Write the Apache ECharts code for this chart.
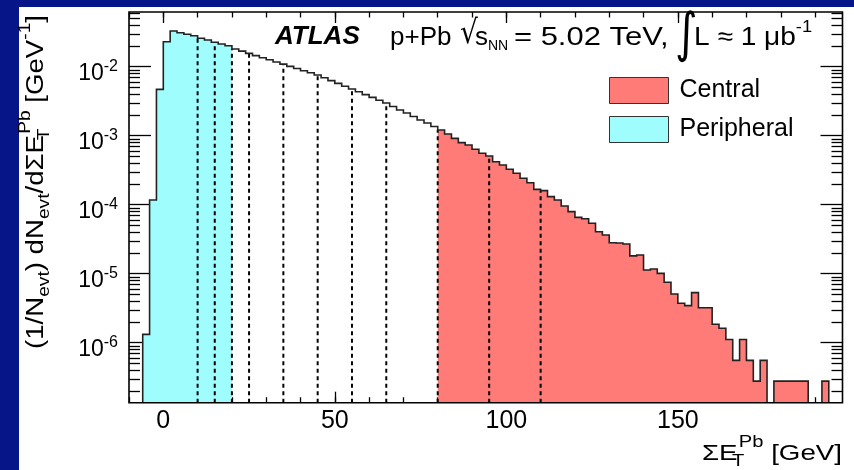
<!DOCTYPE html>
<html><head><meta charset="utf-8">
<script src="https://cdn.jsdelivr.net/npm/echarts@6/dist/echarts.min.js"></script>
<style>html,body{margin:0;padding:0;background:#fff}#c{width:854px;height:470px}</style>
</head><body><div id="c"></div>
<script>
// ---- data ----
const binEdges = [-6,-4,-2,0,2,4,6,8,10,12,14,16,18,20,22,24,26,28,30,32,34,36,38,40,42,44,46,48,50,52,54,56,58,60,62,64,66,68,70,72,74,76,78,80,82,84,86,88,90,92,94,96,98,100,102,104,106,108,110,112,114,116,118,120,122,124,126,128,130,132,134,136,138,140,142,144,146,148,150,152,154,156,158,160,162,164,166,168,170,172,174,176,178,180,182,184,186,188,190,192,194,196,198];
const density = [1.32e-6,1.17e-4,4.70e-3,0.0230,0.0329,0.0311,0.0295,0.0281,0.0258,0.0244,0.0226,0.0213,0.0201,0.0181,0.0168,0.0156,0.0145,0.0135,0.0126,0.0117,0.0109,0.0101,0.00942,0.00875,0.00816,0.00758,0.00691,0.00629,0.00573,0.00522,0.00475,0.00433,0.00394,0.00359,0.00327,0.00298,0.00265,0.00236,0.00213,0.00190,0.00169,0.00153,0.00136,0.00121,0.00106,0.000916,0.000793,0.000733,0.000635,0.000556,0.000508,0.000420,0.000376,0.000326,0.000285,0.000242,0.000208,0.000167,0.000160,0.000131,0.000117,9.57e-5,7.93e-5,6.56e-5,6.27e-5,5.37e-5,4.06e-5,3.64e-5,2.81e-5,2.79e-5,2.69e-5,1.81e-5,1.87e-5,1.13e-5,1.17e-5,1.01e-5,7.50e-6,5.08e-6,3.72e-6,3.44e-6,5.31e-6,3.21e-6,3.21e-6,1.85e-6,1.62e-6,1.11e-6,5.54e-7,1.11e-6,5.54e-7,2.77e-7,5.54e-7,0,2.77e-7,2.77e-7,2.77e-7,2.77e-7,2.77e-7,0,0,2.77e-7,0,0];
const peripheralRange = [-6, 20];
const centralRange = [80, 198];
const boundaryLines = [10, 15, 20, 25, 35, 45, 55, 65, 80, 95, 110];
const xMajorTicks = [0, 50, 100, 150];
const xMinorTicks = [-10,0,10,20,30,40,50,60,70,80,90,100,110,120,130,140,150,160,170,180,190];
const yDecades = [-6, -5, -4, -3, -2];
const xRange = [-10, 198];
const yRange = [-6.87, -1.207]; // log10 of 1.35e-7 .. 0.062

// ---- styling ----
const RED = '#ff7b77', CYAN = '#a0fdfd', BLUE = '#061689';
const FONT = '"Liberation Sans", Arial, Helvetica, sans-serif';
const Y_MIN = yRange[0];
const yMinor = [];
for (let n = -7; n <= -2; n++) for (let k = 2; k <= 9; k++) {
  const v = Math.log10(k) + n; if (v > yRange[0] && v < yRange[1]) yMinor.push(v);
}
function lg(v) { return v > 0 ? Math.log10(v) : Y_MIN; }
function valueAt(x) {
  for (let i = 0; i < density.length; i++) if (binEdges[i] <= x && x < binEdges[i + 1]) return density[i];
  return 0;
}

function regionPolygon(api, lo, hi) {
  const pts = [api.coord([lo, Y_MIN])];
  for (let i = 0; i < density.length; i++) {
    if (binEdges[i] >= lo && binEdges[i + 1] <= hi) {
      const y = lg(density[i]);
      pts.push(api.coord([binEdges[i], y]));
      pts.push(api.coord([binEdges[i + 1], y]));
    }
  }
  pts.push(api.coord([hi, Y_MIN]));
  return pts;
}
function outlinePoints(api) {
  const pts = [api.coord([binEdges[0], Y_MIN])];
  for (let i = 0; i < density.length; i++) {
    const y = lg(density[i]);
    pts.push(api.coord([binEdges[i], y]));
    pts.push(api.coord([binEdges[i + 1], y]));
  }
  pts.push(api.coord([binEdges[binEdges.length - 1], Y_MIN]));
  return pts;
}

const tickLine = { color: '#000', width: 1.3 };
function xAx(pos, ticks, len, labels) {
  return { type: 'value', position: pos, min: xRange[0], max: xRange[1],
    axisLine: { show: false, onZero: false }, splitLine: { show: false },
    axisTick: { show: true, inside: true, length: len, customValues: ticks, lineStyle: tickLine },
    axisLabel: labels ? { show: true, customValues: ticks, margin: 6, fontSize: 25, lineHeight: 25, fontFamily: FONT, color: '#000' } : { show: false } };
}
function yAx(pos, ticks, len, labels) {
  return { type: 'value', position: pos, min: yRange[0], max: yRange[1],
    axisLine: { show: false, onZero: false }, splitLine: { show: false },
    axisTick: { show: true, inside: true, length: len, customValues: ticks, lineStyle: tickLine },
    axisLabel: labels ? { show: true, customValues: ticks, margin: 11, fontFamily: FONT, color: '#000',
      formatter: v => '{b|10}{s|' + Math.round(v) + '}',
      rich: { b: { fontSize: 23, lineHeight: 23, padding: [13, 0, 0, 0], fontFamily: FONT, color: '#000' },
              s: { fontSize: 16, lineHeight: 16, fontFamily: FONT, color: '#000' } } } : { show: false } };
}

const chart = echarts.init(document.getElementById('c'), null, { renderer: 'canvas' });
const richTitle = {
  sub: { fontSize: 16, lineHeight: 16, padding: [16, 0, 0, 0], fontFamily: FONT, fill: '#000' },
  subT: { fontSize: 16, lineHeight: 16, padding: [16, 0, 0, 0], width: 1, align: 'left', fontFamily: FONT, fill: '#000' },
  sup: { fontSize: 16, lineHeight: 16, padding: [0, 0, 22, 0], fontFamily: FONT, fill: '#000' }
};
const T26 = '26px ' + FONT;
chart.setOption({
  backgroundColor: '#fff',
  animation: false,
  grid: { left: 129, top: 12, width: 713.5, height: 390.7, show: true, borderColor: '#000', borderWidth: 1.6, backgroundColor: 'transparent', z: 10 },
  xAxis: [xAx('bottom', xMajorTicks, 11, true), xAx('bottom', xMinorTicks, 5.5, false), xAx('top', xMajorTicks, 11, false), xAx('top', xMinorTicks, 5.5, false)],
  yAxis: [yAx('left', yDecades, 22, true), yAx('left', yMinor, 11, false), yAx('right', yDecades, 22, false), yAx('right', yMinor, 11, false)],
  legend: {
    orient: 'vertical', left: 609, top: 77, padding: 0, itemWidth: 59, itemHeight: 26, itemGap: 12, selectedMode: false,
    data: [
      { name: 'Central', icon: 'rect', itemStyle: { color: RED, borderColor: '#333', borderWidth: 1 } },
      { name: 'Peripheral', icon: 'rect', itemStyle: { color: CYAN, borderColor: '#333', borderWidth: 1 } }
    ],
    textStyle: { fontFamily: FONT, fontSize: 25, lineHeight: 26, color: '#000', padding: [0, 0, 0, 6] }
  },
  graphic: [
    { type: 'rect', shape: { x: 0, y: 0, width: 854, height: 7 }, style: { fill: BLUE }, silent: true },
    { type: 'rect', shape: { x: 0, y: 0, width: 19, height: 470 }, style: { fill: BLUE }, silent: true },
    { type: 'text', x: 275, y: 37.3, style: { text: 'ATLAS', font: 'italic bold 26px ' + FONT, fill: '#000', verticalAlign: 'middle' } },
    { type: 'text', x: 390, y: 38, style: { text: 'p+Pb', font: T26, fill: '#000', verticalAlign: 'middle' } },
    { type: 'text', x: 460, y: 34, scaleX: 0.85, style: { text: '√', font: '33px "DejaVu Sans"', fill: '#000', verticalAlign: 'middle' } },
    { type: 'text', x: 475, y: 38, style: { text: 's{sub|NN}', font: T26, fill: '#000', verticalAlign: 'middle',
        rich: { sub: { fontSize: 14, lineHeight: 14, padding: [17, 0, 0, 0], fontFamily: FONT } } } },
    { type: 'text', x: 514, y: 38, scaleX: 1.19, style: { text: '= 5.02 TeV,', font: T26, fill: '#000', verticalAlign: 'middle' } },
    { type: 'text', x: 675, y: 37, scaleX: 0.8, style: { text: '∫', font: '54px "DejaVu Sans"', fill: '#000', verticalAlign: 'middle' } },
    { type: 'text', x: 694, y: 38, scaleX: 1.08, style: { text: 'L ≈ 1 μb{sup|-1}', font: T26, fill: '#000', verticalAlign: 'middle',
        rich: { sup: { fontSize: 17, lineHeight: 17, padding: [0, 0, 22, 0], fontFamily: FONT } } } },
    { type: 'text', x: 842, y: 454, scaleX: 1.26, style: { text: 'ΣE{subT|T}{sup|Pb} [GeV]', font: '22px ' + FONT, fill: '#000', align: 'right', verticalAlign: 'middle', rich: richTitle } },
    { type: 'text', x: 37, y: 182, rotation: Math.PI / 2, scaleX: 1.2, style: { text: '(1/N{sub|evt}) dN{sub|evt}/dΣE{subT|T}{sup|Pb} [GeV{sup|-1}]', font: '23px ' + FONT, fill: '#000', align: 'center', verticalAlign: 'middle', rich: richTitle } }
  ],
  series: [
    { name: 'Peripheral', type: 'custom', xAxisIndex: 0, yAxisIndex: 0, clip: true, z: 2, itemStyle: { color: CYAN }, data: [[0]],
      renderItem: (p, api) => ({ type: 'polygon', shape: { points: regionPolygon(api, peripheralRange[0], peripheralRange[1]) }, style: { fill: CYAN } }) },
    { name: 'Central', type: 'custom', xAxisIndex: 0, yAxisIndex: 0, clip: true, z: 2, itemStyle: { color: RED }, data: [[0]],
      renderItem: (p, api) => ({ type: 'polygon', shape: { points: regionPolygon(api, centralRange[0], centralRange[1]) }, style: { fill: RED } }) },
    { name: 'boundaries', type: 'custom', xAxisIndex: 0, yAxisIndex: 0, clip: true, z: 3,
      data: boundaryLines.map(x => [x, lg(valueAt(x))]),
      renderItem: (p, api) => {
        const a = api.coord([api.value(0), Y_MIN]), b = api.coord([api.value(0), api.value(1)]);
        return { type: 'line', shape: { x1: a[0], y1: a[1], x2: b[0], y2: b[1] }, style: { stroke: '#000', lineWidth: 2, lineDash: [4, 3.5] } };
      } },
    { name: 'outline', type: 'custom', xAxisIndex: 0, yAxisIndex: 0, clip: true, z: 4, data: [[0]],
      renderItem: (p, api) => ({ type: 'polyline', shape: { points: outlinePoints(api) }, style: { stroke: '#222', lineWidth: 1.6, fill: null } }) }
  ]
});
</script></body></html>
